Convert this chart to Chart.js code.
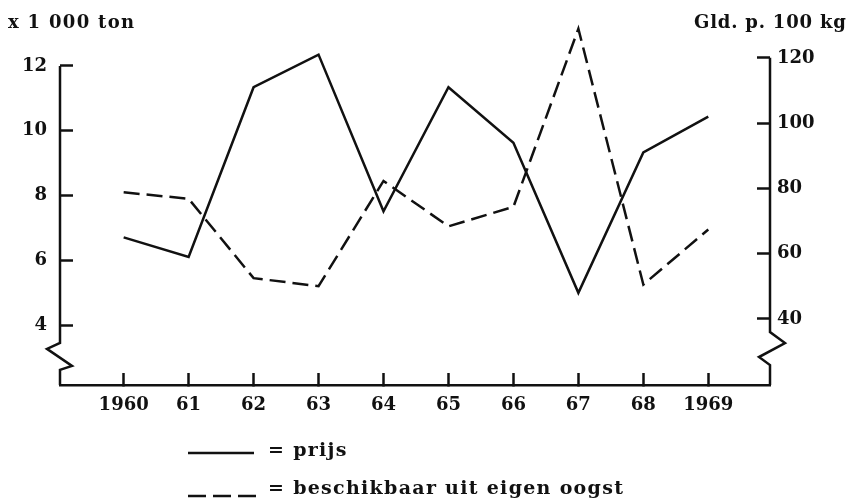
<!DOCTYPE html>
<html>
<head>
<meta charset="utf-8">
<script src="https://cdn.jsdelivr.net/npm/chart.js@4.4.1/dist/chart.umd.min.js"></script>
<style>
  body { margin: 0; background: #fff; }
  #wrap { position: relative; width: 854px; height: 502px; }
  .txt { position: absolute; font: bold 18px 'DejaVu Serif', serif; color: #111; white-space: nowrap; line-height: 21px; }
  .leg { font-size: 19px; line-height: 22px; letter-spacing: 1.3px; }
  .sample { position: absolute; }
</style>
</head>
<body>
<div id="wrap">
  <canvas id="chart"></canvas>
  <div class="txt" style="left:8px;top:11px;letter-spacing:1.3px">x 1 000 ton</div>
  <div class="txt" style="left:694px;top:11px;letter-spacing:0.8px">Gld. p. 100 kg</div>

  <svg class="sample" style="left:188px;top:450px" width="66" height="6">
    <line x1="0" y1="3" x2="66" y2="3" stroke="#111" stroke-width="2.5"/>
  </svg>
  <div class="txt leg" style="left:268px;top:438px">= prijs</div>

  <svg class="sample" style="left:188px;top:493px" width="68" height="6">
    <line x1="0" y1="3" x2="68" y2="3" stroke="#111" stroke-width="2.5" stroke-dasharray="18 7"/>
  </svg>
  <div class="txt leg" style="left:268px;top:476px">= beschikbaar uit eigen oogst</div>
</div>

<script>
// x-axis labels
const years = ['1960', '61', '62', '63', '64', '65', '66', '67', '68', '1969'];
// prijs, Gld. p. 100 kg (right axis)
const prijs = [65, 59, 111, 121, 73, 111, 94, 48, 91, 102];
// beschikbaar uit eigen oogst, x 1 000 ton (left axis)
const oogst = [8.1, 7.9, 5.45, 5.2, 8.45, 7.05, 7.65, 13.15, 5.25, 6.95];
const leftTicks = [4, 6, 8, 10, 12];
const rightTicks = [40, 60, 80, 100, 120];

const INK = '#111';
const tickFont = { family: "'DejaVu Serif', serif", size: 18, weight: 'bold' };

// axis lines with the zigzag break near the bottom
const axisBreaks = {
  id: 'axisBreaks',
  afterDraw(chart) {
    const { ctx, chartArea: a, scales: { y, y1 } } = chart;
    ctx.save();
    ctx.strokeStyle = INK;
    ctx.lineWidth = 2.5;

    const lTop = y.getPixelForValue(12);
    const lBrk = y.getPixelForValue(3.45);
    ctx.beginPath();
    ctx.moveTo(a.left, lTop);
    ctx.lineTo(a.left, lBrk);
    ctx.lineTo(a.left - 13, lBrk + 6);
    ctx.lineTo(a.left + 12, lBrk + 23);
    ctx.lineTo(a.left, lBrk + 27);
    ctx.lineTo(a.left, a.bottom);
    ctx.stroke();

    const rTop = y1.getPixelForValue(120);
    const rBrk = y1.getPixelForValue(36);
    ctx.beginPath();
    ctx.moveTo(a.right, rTop);
    ctx.lineTo(a.right, rBrk);
    ctx.lineTo(a.right + 15, rBrk + 11);
    ctx.lineTo(a.right - 11, rBrk + 25);
    ctx.lineTo(a.right, rBrk + 33);
    ctx.lineTo(a.right, a.bottom);
    ctx.stroke();
    ctx.restore();
  }
};

const tickGrid = len => ({
  drawOnChartArea: false,
  drawTicks: true,
  tickLength: len,
  tickWidth: 2.5,
  tickColor: INK
});

// fixed axis box sizes, no extra label padding
const fitY = w => s => { s.width = w; s.paddingTop = 0; s.paddingBottom = 0; };

new Chart(document.getElementById('chart'), {
  type: 'line',
  data: {
    datasets: [
      {
        label: 'prijs',
        data: prijs.map((v, i) => ({ x: i, y: v })),
        yAxisID: 'y1',
        borderColor: INK,
        borderWidth: 2.5,
        pointRadius: 0,
        tension: 0,
        clip: false
      },
      {
        label: 'beschikbaar uit eigen oogst',
        data: oogst.map((v, i) => ({ x: i, y: v })),
        yAxisID: 'y',
        borderColor: INK,
        borderWidth: 2.5,
        borderDash: [16, 7],
        pointRadius: 0,
        tension: 0,
        clip: false
      }
    ]
  },
  options: {
    responsive: true,
    maintainAspectRatio: false,
    animation: false,
    layout: { padding: { top: 20, left: 0, right: 0, bottom: 0 } },
    plugins: {
      legend: { display: false },
      tooltip: { enabled: false }
    },
    scales: {
      x: {
        type: 'linear',
        position: 'bottom',
        min: -0.98,
        max: 9.95,
        afterBuildTicks: s => { s.ticks = years.map((_, i) => ({ value: i })); },
        afterFit: s => { s.height = 117; s.paddingLeft = 0; s.paddingRight = 0; },
        ticks: {
          autoSkip: false,
          maxRotation: 0,
          padding: 22,
          color: INK,
          font: tickFont,
          callback: v => years[v]
        },
        grid: tickGrid(-12),
        border: { display: true, color: INK, width: 2.5 }
      },
      y: {
        position: 'left',
        min: 2.15,
        max: 13.42,
        afterBuildTicks: s => { s.ticks = leftTicks.map(v => ({ value: v })); },
        afterFit: fitY(60),
        ticks: { padding: 26, color: INK, font: tickFont },
        grid: tickGrid(-13),
        border: { display: false }
      },
      y1: {
        position: 'right',
        min: 19.77,
        max: 131.6,
        afterBuildTicks: s => { s.ticks = rightTicks.map(v => ({ value: v })); },
        afterFit: fitY(84),
        ticks: { padding: 20, color: INK, font: tickFont },
        grid: tickGrid(-13),
        border: { display: false }
      }
    }
  },
  plugins: [axisBreaks]
});
</script>
</body>
</html>
